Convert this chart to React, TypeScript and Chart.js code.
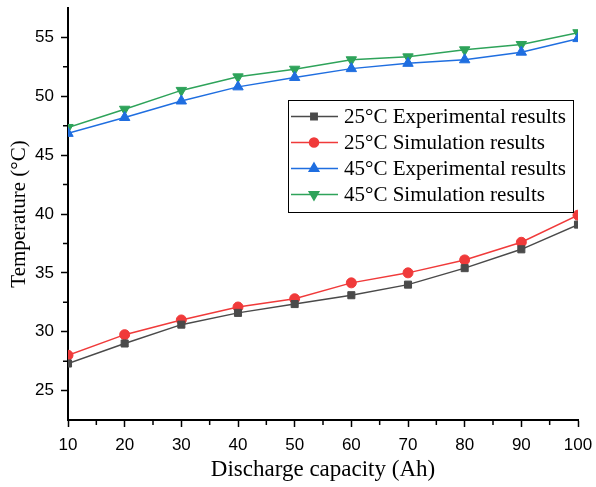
import React, { useEffect, useRef } from 'react';
import { Chart, registerables } from 'chart.js';
import { drawPoint } from 'chart.js/helpers';

Chart.register(...registerables);

const capacity = [10, 20, 30, 40, 50, 60, 70, 80, 90, 100];
const exp25 = [27.3, 29.0, 30.6, 31.6, 32.35, 33.1, 34.0, 35.4, 37.0, 39.1];
const sim25 = [28.0, 29.75, 31.0, 32.1, 32.8, 34.15, 35.0, 36.1, 37.6, 39.9];
const exp45 = [46.85, 48.2, 49.6, 50.8, 51.6, 52.35, 52.8, 53.1, 53.75, 54.9];
const sim45 = [47.35, 48.9, 50.5, 51.65, 52.3, 53.1, 53.35, 53.95, 54.4, 55.4];
const seriesLabels = [
  '25°C Experimental results',
  '25°C Simulation results',
  '45°C Experimental results',
  '45°C Simulation results',
];
const xMinorTicks = [15, 25, 35, 45, 55, 65, 75, 85, 95];
const yMinorTicks = [27.5, 32.5, 37.5, 42.5, 47.5, 52.5];

const colors = ['#4a4a4a', '#f03a3a', '#1f6ee0', '#2ea35a'];
const styles = ['rect', 'circle', 'triangle', 'triangle'];
const rotations = [0, 0, 0, 180];
const radii = [5, 5, 6, 6];
const legendRadii = [4.5, 4.5, 5.5, 5.5];

const serif = "'Liberation Serif', 'Times New Roman', serif";
const sans = "'Liberation Sans', Arial, sans-serif";

const minorTicksPlugin = {
  id: 'minorTicks',
  afterDraw(chart: any) {
    const ctx = chart.ctx;
    const area = chart.chartArea;
    const xs = chart.scales.x;
    const ys = chart.scales.y;
    ctx.save();
    ctx.strokeStyle = '#000';
    ctx.lineWidth = 1.5;
    ctx.beginPath();
    for (const v of xMinorTicks) {
      const px = xs.getPixelForValue(v);
      ctx.moveTo(px, area.bottom);
      ctx.lineTo(px, area.bottom + 5);
    }
    for (const v of yMinorTicks) {
      const py = ys.getPixelForValue(v);
      ctx.moveTo(area.left, py);
      ctx.lineTo(area.left - 5, py);
    }
    ctx.stroke();
    ctx.restore();
  },
};

const boxedLegendPlugin = {
  id: 'boxedLegend',
  afterDraw(chart: any) {
    const ctx = chart.ctx;
    const area = chart.chartArea;
    const boxRight = area.right - 5;
    const boxLeft = boxRight - 285;
    const boxTop = area.top + 92;
    const boxH = 112;
    ctx.save();
    ctx.fillStyle = '#fff';
    ctx.fillRect(boxLeft, boxTop, 285, boxH);
    ctx.strokeStyle = '#000';
    ctx.lineWidth = 1;
    ctx.strokeRect(boxLeft + 0.5, boxTop + 0.5, 285, boxH);
    chart.data.datasets.forEach((ds: any, i: number) => {
      const y = boxTop + 16.5 + i * 26;
      ctx.strokeStyle = ds.borderColor;
      ctx.lineWidth = 1.5;
      ctx.beginPath();
      ctx.moveTo(boxLeft + 3, y);
      ctx.lineTo(boxLeft + 50, y);
      ctx.stroke();
      ctx.fillStyle = ds.pointBackgroundColor;
      ctx.strokeStyle = ds.pointBorderColor;
      drawPoint(ctx, {
        pointStyle: ds.pointStyle,
        radius: legendRadii[i],
        rotation: ds.pointRotation,
        borderWidth: 1,
      }, boxLeft + 26, y);
      ctx.fillStyle = '#000';
      ctx.font = `21px ${serif}`;
      ctx.textBaseline = 'middle';
      ctx.textAlign = 'left';
      ctx.fillText(ds.label, boxLeft + 56, y + 1);
    });
    ctx.restore();
  },
};

export default function App() {
  const canvasRef = useRef<HTMLCanvasElement | null>(null);

  useEffect(() => {
    if (!canvasRef.current) return;
    const series = [exp25, sim25, exp45, sim45];
    const chart = new Chart(canvasRef.current, {
      type: 'line',
      data: {
        datasets: series.map((vals, i) => ({
          label: seriesLabels[i],
          data: capacity.map((c, j) => ({ x: c, y: vals[j] })),
          borderColor: colors[i],
          backgroundColor: colors[i],
          pointBackgroundColor: colors[i],
          pointBorderColor: colors[i],
          pointStyle: styles[i],
          pointRotation: rotations[i],
          pointRadius: radii[i],
          pointHoverRadius: radii[i],
          pointBorderWidth: 1,
          borderWidth: 1.5,
          tension: 0,
          clip: 0,
        })),
      },
      options: {
        animation: false,
        responsive: true,
        maintainAspectRatio: false,
        layout: { padding: { left: 0, right: 18, top: 8, bottom: 0 } },
        plugins: {
          legend: { display: false },
          tooltip: { enabled: false },
        },
        scales: {
          x: {
            type: 'linear',
            min: 10,
            max: 100,
            afterFit: (s: any) => {
              s.height = 67;
              s.paddingLeft = 0;
              s.paddingRight = 0;
            },
            ticks: {
              stepSize: 10,
              color: '#000',
              font: { family: sans, size: 17 },
              padding: 8,
              maxRotation: 0,
            },
            grid: {
              drawOnChartArea: false,
              drawTicks: true,
              tickLength: 7,
              tickColor: '#000',
              tickWidth: 1.5,
            },
            border: { color: '#000', width: 2 },
            title: {
              display: true,
              text: 'Discharge capacity (Ah)',
              color: '#000',
              font: { family: serif, size: 23 },
              padding: { top: 0, bottom: 3 },
            },
          },
          y: {
            type: 'linear',
            min: 22.5,
            max: 57.5,
            afterFit: (s: any) => {
              s.width = 68;
              s.paddingTop = 0;
              s.paddingBottom = 0;
            },
            ticks: {
              stepSize: 2.5,
              color: '#000',
              font: { family: sans, size: 17 },
              padding: 7,
              callback: (v: any) => (Number(v) % 5 === 0 ? String(v) : ''),
            },
            grid: {
              drawOnChartArea: false,
              drawTicks: true,
              tickLength: 7,
              tickWidth: 1.5,
              tickColor: (ctx: any) =>
                ctx.tick && Number(ctx.tick.value) % 5 === 0 ? '#000' : 'rgba(0,0,0,0)',
            },
            border: { color: '#000', width: 2 },
            title: {
              display: true,
              text: 'Temperature (°C)',
              color: '#000',
              font: { family: serif, size: 21 },
              padding: { top: 7, bottom: 0 },
            },
          },
        },
      },
      plugins: [minorTicksPlugin, boxedLegendPlugin],
    } as any);
    return () => chart.destroy();
  }, []);

  return (
    <div style={{ position: 'fixed', left: 0, top: 0, width: 596, height: 487, background: '#fff' }}>
      <canvas ref={canvasRef} />
    </div>
  );
}
